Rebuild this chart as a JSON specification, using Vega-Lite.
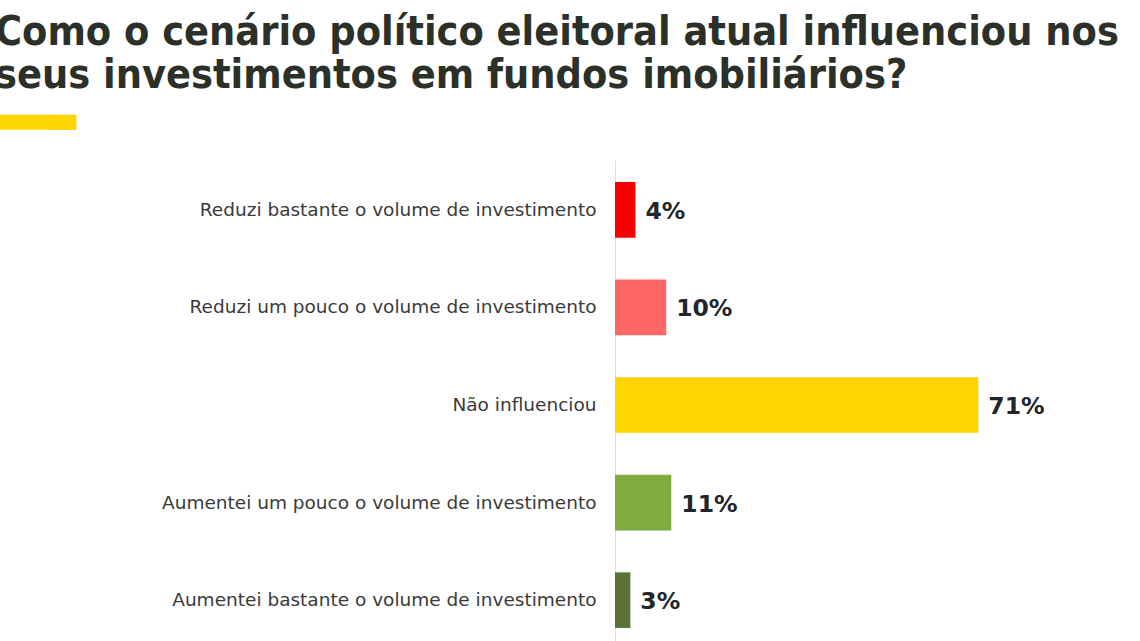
{
  "$schema": "https://vega.github.io/schema/vega-lite/v6.json",
  "autosize": {"type": "none"},
  "padding": {"left": 615, "top": 160, "right": 0, "bottom": 0},
  "width": 525,
  "height": 490,
  "background": "white",
  "title": {
    "text": ["Como o cenário político eleitoral atual influenciou nos", "seus investimentos em fundos imobiliários?"],
    "subtitle": "━╸",
    "anchor": "start",
    "frame": "group",
    "dx": -620,
    "offset": -12,
    "font": "DejaVu Sans Condensed, DejaVu Sans",
    "fontSize": 41,
    "fontWeight": "bold",
    "color": "#2b3028",
    "lineHeight": 43,
    "subtitleFont": "DejaVu Sans",
    "subtitleFontSize": 90,
    "subtitleFontWeight": "bold",
    "subtitleColor": "#FFD500",
    "subtitlePadding": -15
  },
  "data": {
    "values": [
      {"resposta": "Reduzi bastante o volume de investimento", "pct": 4, "label": "4%", "cor": "#F80000"},
      {"resposta": "Reduzi um pouco o volume de investimento", "pct": 10, "label": "10%", "cor": "#FF6666"},
      {"resposta": "Não influenciou", "pct": 71, "label": "71%", "cor": "#FFD400"},
      {"resposta": "Aumentei um pouco o volume de investimento", "pct": 11, "label": "11%", "cor": "#80AB40"},
      {"resposta": "Aumentei bastante o volume de investimento", "pct": 3, "label": "3%", "cor": "#5A7236"}
    ]
  },
  "encoding": {
    "y": {
      "field": "resposta",
      "type": "nominal",
      "sort": null,
      "scale": {"paddingInner": 0.43, "paddingOuter": 0.226},
      "axis": {
        "title": null,
        "ticks": false,
        "domainColor": "#dddddd",
        "domainWidth": 1,
        "labelFont": "DejaVu Sans",
        "labelFontSize": 18.5,
        "labelColor": "#3a3a3a",
        "labelPadding": 19,
        "labelLimit": 600
      }
    },
    "x": {
      "field": "pct",
      "type": "quantitative",
      "scale": {"domain": [0, 102.6]},
      "axis": null
    }
  },
  "layer": [
    {
      "mark": {"type": "bar"},
      "encoding": {
        "color": {"field": "cor", "type": "nominal", "scale": null}
      }
    },
    {
      "mark": {"type": "text", "align": "left", "baseline": "middle", "dx": 10, "dy": 2, "font": "DejaVu Sans", "fontSize": 23.5, "fontWeight": "bold", "color": "#22252b"},
      "encoding": {"text": {"field": "label"}}
    }
  ],
  "config": {"view": {"stroke": null}}
}
